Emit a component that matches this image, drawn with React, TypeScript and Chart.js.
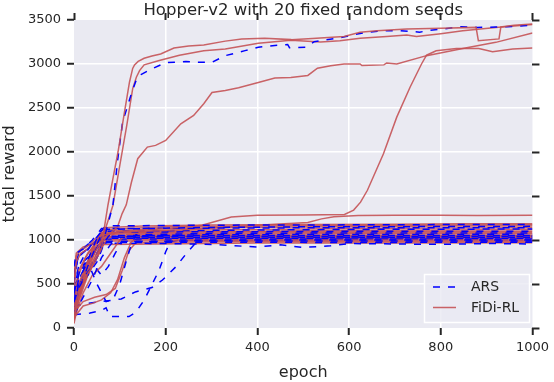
import React, { useEffect, useRef } from "react";
import { Chart, registerables } from "chart.js";

Chart.register(...registerables);

type P = [number, number][];

const TITLE = "Hopper-v2 with 20 fixed random seeds";
const X_LABEL = "epoch";
const Y_LABEL = "total reward";
const X_TICKS = [0, 200, 400, 600, 800, 1000];
const Y_TICKS = [0, 500, 1000, 1500, 2000, 2500, 3000, 3500];
const LEGEND_LABELS = ["ARS", "FiDi-RL"];

// ---- FiDi-RL (red) ----
const fidi1: P = [[0,120],[10,350],[20,500],[30,620],[40,700],[50,800],[60,900],[65,1100],[74,1395],[85,1700],[96,2000],[110,2450],[121,2793],[128,2950],[132,2990],[140,3030],[153,3065],[170,3090],[189,3114],[218,3182],[250,3205],[283,3216],[330,3260],[366,3284],[416,3292],[474,3277],[520,3290],[589,3313],[624,3360],[661,3378],[726,3398],[800,3405],[877,3416],[882,3265],[927,3285],[931,3420],[960,3440],[1000,3455]];
const fidi2: P = [[0,200],[10,400],[25,600],[40,750],[55,900],[70,1150],[85,1395],[100,1850],[115,2300],[128,2720],[136,2850],[143,2925],[153,2990],[186,3040],[230,3100],[283,3150],[330,3170],[402,3235],[473,3270],[538,3250],[580,3265],[624,3292],[682,3313],[726,3330],[747,3313],[800,3345],[848,3378],[920,3416],[1000,3450]];
const fidi3: P = [[0,150],[15,400],[30,650],[45,850],[60,1000],[80,1080],[95,1150],[105,1300],[114,1400],[125,1650],[139,1924],[160,2056],[178,2075],[200,2131],[233,2320],[261,2415],[283,2548],[301,2676],[330,2700],[359,2730],[402,2790],[438,2842],[473,2847],[510,2870],[531,2952],[560,2980],[589,3000],[624,3000],[628,2982],[676,2990],[682,3012],[704,3000],[769,3095],[848,3175],[920,3246],[1000,3352]];
const fidi4: P = [[0,250],[15,500],[30,750],[45,950],[60,1060],[100,1100],[150,1110],[200,1130],[250,1150],[279,1168],[343,1262],[400,1280],[500,1285],[590,1290],[610,1340],[625,1430],[640,1565],[675,1980],[704,2396],[733,2736],[758,3000],[769,3100],[790,3150],[834,3175],[883,3175],[913,3140],[957,3170],[1000,3182]];
const fidi5: P = [[0,180],[15,450],[30,700],[45,900],[60,1050],[100,1090],[150,1100],[250,1120],[350,1150],[402,1168],[460,1185],[510,1200],[540,1240],[567,1265],[620,1278],[700,1280],[800,1282],[880,1278],[1000,1282]];
const fidi6: P = [[0,90],[8,300],[20,550],[35,800],[50,1000],[65,1140],[150,1160],[300,1170],[500,1175],[700,1180],[850,1185],[1000,1185]];
const fidi7: P = [[0,250],[10,500],[25,700],[40,900],[55,1050],[70,1120],[200,1150],[400,1160],[600,1165],[800,1170],[1000,1172]];
const fidi8: P = [[0,400],[5,750],[15,850],[30,900],[50,1000],[65,1100],[200,1130],[400,1145],[600,1150],[800,1158],[1000,1160]];
const fidi9: P = [[0,150],[10,400],[30,600],[50,800],[60,950],[75,1080],[200,1110],[400,1120],[600,1130],[800,1135],[1000,1140]];
const fidi10: P = [[0,300],[10,600],[25,800],[45,950],[60,1080],[200,1095],[400,1100],[600,1110],[800,1115],[1000,1120]];
const fidi11: P = [[0,200],[15,450],[35,650],[55,850],[70,1000],[90,1080],[250,1090],[500,1095],[750,1100],[1000,1100]];
const fidi12: P = [[0,500],[5,820],[15,880],[35,950],[55,1060],[150,1075],[400,1080],[700,1085],[1000,1085]];
const fidi13: P = [[0,100],[20,400],[40,600],[60,700],[80,850],[100,1000],[115,1060],[300,1065],[600,1070],[1000,1070]];
const fidi14: P = [[0,350],[10,650],[30,850],[50,980],[65,1040],[300,1050],[600,1055],[1000,1055]];
const fidi15: P = [[0,200],[15,500],[35,750],[55,950],[70,1030],[300,1035],[600,1040],[1000,1040]];
const fidi16: P = [[0,120],[20,250],[40,280],[60,320],[80,400],[95,550],[110,800],[125,980],[140,1020],[400,1025],[700,1025],[1000,1025]];
const fidi17: P = [[0,600],[5,850],[20,920],[45,960],[70,1005],[300,1008],[600,1010],[1000,1010]];
const fidi18: P = [[0,250],[15,550],[35,800],[55,950],[75,990],[400,995],[700,995],[1000,995]];
const fidi19: P = [[0,180],[20,300],[45,350],[70,380],[90,450],[105,650],[120,880],[135,970],[300,980],[600,980],[1000,980]];
const fidi20: P = [[0,50],[10,300],[30,600],[50,850],[65,950],[400,965],[700,965],[1000,968]];

// ---- ARS (blue dashed) ----
const ars1: P = [[0,300],[10,450],[25,600],[40,700],[55,850],[70,1100],[85,1400],[95,1900],[106,2340],[125,2660],[138,2850],[146,2880],[171,2948],[200,3015],[244,3027],[272,3020],[301,3020],[330,3095],[373,3152],[402,3190],[438,3210],[466,3222],[470,3185],[505,3190],[524,3254],[574,3292],[611,3333],[639,3360],[675,3378],[711,3378],[754,3362],[773,3380],[808,3400],[845,3424],[880,3416],[920,3420],[960,3428],[1000,3443]];
const ars2: P = [[0,300],[10,550],[25,700],[40,900],[55,1080],[70,1160],[200,1165],[400,1170],[600,1172],[800,1175],[1000,1175]];
const ars3: P = [[0,150],[10,400],[30,700],[50,950],[65,1120],[250,1140],[500,1150],[750,1152],[1000,1155]];
const ars4: P = [[0,700],[5,850],[20,900],[40,1000],[60,1130],[300,1135],[600,1140],[1000,1140]];
const ars5: P = [[0,400],[10,700],[25,850],[45,1000],[60,1100],[300,1110],[600,1120],[1000,1125]];
const ars6: P = [[0,250],[10,500],[30,600],[50,750],[65,950],[80,1090],[400,1095],[700,1100],[1000,1100]];
const ars7: P = [[0,400],[15,700],[30,750],[50,500],[70,300],[85,320],[100,500],[115,780],[125,950],[135,1060],[300,1075],[600,1080],[1000,1080]];
const ars8: P = [[0,200],[10,450],[25,650],[45,900],[60,1040],[300,1060],[600,1062],[1000,1065]];
const ars9: P = [[0,500],[8,800],[25,880],[50,1000],[65,1050],[300,1050],[700,1052],[1000,1050]];
const ars10: P = [[0,350],[10,600],[30,750],[50,900],[70,1035],[300,1040],[600,1040],[1000,1042]];
const ars11: P = [[0,150],[20,350],[40,550],[60,800],[80,950],[95,1030],[400,1030],[1000,1032]];
const ars12: P = [[0,600],[10,850],[30,950],[50,990],[70,1020],[300,1020],[700,1022],[1000,1020]];
const ars13: P = [[0,250],[15,600],[35,800],[55,960],[70,1010],[400,1010],[700,1010],[1000,1012]];
const ars14: P = [[0,300],[10,500],[30,650],[45,700],[60,600],[75,700],[90,850],[105,980],[400,1000],[700,1000],[1000,1000]];
const ars15: P = [[0,450],[10,700],[30,800],[50,900],[65,985],[400,990],[700,988],[1000,990]];
const ars16: P = [[0,200],[15,450],[35,700],[55,900],[70,970],[300,975],[600,972],[1000,975]];
const ars17: P = [[0,350],[10,600],[30,800],[50,920],[65,965],[200,960],[300,950],[350,935],[400,920],[450,945],[500,915],[560,935],[600,960],[700,955],[800,950],[900,960],[1000,955]];
const ars18: P = [[0,150],[35,170],[60,200],[70,230],[78,130],[120,130],[135,180],[153,317],[164,430],[185,650],[200,866],[210,980],[230,1000],[400,1000],[700,1005],[1000,1000]];
const ars19: P = [[0,250],[30,280],[60,300],[103,330],[134,410],[170,460],[193,545],[222,695],[245,845],[267,975],[280,1020],[500,1025],[800,1025],[1000,1025]];
const ars20: P = [[0,550],[8,780],[20,860],[40,940],[60,1000],[80,1040],[300,1045],[600,1045],[1000,1048]];

const FIDI = [fidi1,fidi2,fidi3,fidi4,fidi5,fidi6,fidi7,fidi8,fidi9,fidi10,fidi11,fidi12,fidi13,fidi14,fidi15,fidi16,fidi17,fidi18,fidi19,fidi20];
const ARS = [ars1,ars2,ars3,ars4,ars5,ars6,ars7,ars8,ars9,ars10,ars11,ars12,ars13,ars14,ars15,ars16,ars17,ars18,ars19,ars20];

const RED = "rgba(196,78,82,0.88)";
const BLUE = "#0000ff";
const DASH = [7, 8];
const TEXT = "#262626";
const BG = "#EAEAF2";
const FONT = '"DejaVu Sans", sans-serif';

const bgPlugin = {
  id: "bg",
  beforeDraw(chart: any) {
    const { ctx, chartArea: a } = chart;
    ctx.save();
    ctx.fillStyle = BG;
    ctx.fillRect(a.left, a.top, a.right - a.left, a.bottom - a.top);
    ctx.restore();
  },
};

const overlayPlugin = {
  id: "overlay",
  afterDraw(chart: any) {
    const { ctx, chartArea: a } = chart;
    ctx.save();
    ctx.fillStyle = TEXT;
    ctx.font = `16.5px ${FONT}`;
    ctx.textAlign = "center";
    ctx.textBaseline = "alphabetic";
    ctx.fillText(TITLE, (a.left + a.right) / 2, 15);
    const bx = 424.5, by = 274.5, bw = 105, bh = 48;
    ctx.fillStyle = "rgba(234,234,242,0.8)";
    ctx.fillRect(bx, by, bw, bh);
    ctx.strokeStyle = "#ffffff";
    ctx.lineWidth = 1.5;
    ctx.strokeRect(bx, by, bw, bh);
    const rows = [
      { y: 287, color: BLUE, dash: DASH, w: 1.6 },
      { y: 307.5, color: RED, dash: [] as number[], w: 1.5 },
    ];
    rows.forEach((r, i) => {
      ctx.beginPath();
      ctx.setLineDash(r.dash);
      ctx.strokeStyle = r.color;
      ctx.lineWidth = r.w;
      ctx.moveTo(433, r.y);
      ctx.lineTo(456, r.y);
      ctx.stroke();
      ctx.setLineDash([]);
      ctx.fillStyle = TEXT;
      ctx.font = `14px ${FONT}`;
      ctx.textAlign = "left";
      ctx.textBaseline = "middle";
      ctx.fillText(LEGEND_LABELS[i], 471, r.y + 0.5);
    });
    ctx.restore();
  },
};

function gridColor(edgeMin: number, edgeMax: number) {
  return (c: any) => {
    const v = c.tick ? c.tick.value : null;
    if (v === edgeMin || v === edgeMax) return "rgba(255,255,255,0)";
    return "#ffffff";
  };
}

const plainTick = (v: any) => String(v);

export default function App() {
  const ref = useRef<HTMLCanvasElement | null>(null);
  useEffect(() => {
    if (!ref.current) return;
    const datasets: any[] = [];
    for (let i = 0; i < 20; i++) {
      datasets.push({
        label: "FiDi-RL",
        data: FIDI[i].map(([x, y]) => ({ x, y })),
        borderColor: RED,
        borderWidth: 1.5,
        pointRadius: 0,
        fill: false,
        tension: 0,
      });
      datasets.push({
        label: "ARS",
        data: ARS[i].map(([x, y]) => ({ x, y })),
        borderColor: BLUE,
        borderWidth: 1.5,
        borderDash: DASH,
        pointRadius: 0,
        fill: false,
        tension: 0,
      });
    }
    const tickFont = { family: FONT, size: 13 };
    const chart = new Chart(ref.current, {
      type: "line",
      data: { datasets },
      options: {
        animation: false,
        responsive: false,
        maintainAspectRatio: false,
        devicePixelRatio: 1,
        layout: { padding: 0 },
        plugins: {
          legend: { display: false },
          tooltip: { enabled: false },
          title: { display: false },
        },
        scales: {
          x: {
            type: "linear",
            position: "bottom",
            min: X_TICKS[0],
            max: X_TICKS[X_TICKS.length - 1],
            afterBuildTicks: (s: any) => { s.ticks = X_TICKS.map((v) => ({ value: v })); },
            ticks: { font: tickFont, color: TEXT, padding: 5, maxRotation: 0, callback: plainTick },
            grid: { color: gridColor(0, 1000), lineWidth: 1.5, tickColor: TEXT, tickLength: 7, tickWidth: 2 },
            border: { display: false },
            title: { display: true, text: X_LABEL, color: TEXT, font: { family: FONT, size: 16 }, padding: 0 },
            afterFit: (s: any) => { s.height = 54; },
          },
          x2: {
            type: "linear",
            position: "top",
            min: 0,
            max: 1000,
            afterBuildTicks: (s: any) => { s.ticks = X_TICKS.map((v) => ({ value: v })); },
            ticks: { display: false },
            grid: { drawOnChartArea: false, tickColor: TEXT, tickLength: 7, tickWidth: 2 },
            border: { display: false },
            afterFit: (s: any) => { s.height = 20; },
          },
          y: {
            type: "linear",
            position: "left",
            min: Y_TICKS[0],
            max: Y_TICKS[Y_TICKS.length - 1],
            afterBuildTicks: (s: any) => { s.ticks = Y_TICKS.map((v) => ({ value: v })); },
            ticks: { font: tickFont, color: TEXT, padding: 6, callback: plainTick },
            grid: { color: gridColor(0, 3500), lineWidth: 1.5, tickColor: TEXT, tickLength: 7, tickWidth: 2 },
            border: { display: false },
            title: { display: true, text: Y_LABEL, color: TEXT, font: { family: FONT, size: 16 }, padding: 0 },
            afterFit: (s: any) => { s.width = 74; },
          },
          y2: {
            type: "linear",
            position: "right",
            min: 0,
            max: 3500,
            afterBuildTicks: (s: any) => { s.ticks = Y_TICKS.map((v) => ({ value: v })); },
            ticks: { display: false },
            grid: { drawOnChartArea: false, tickColor: TEXT, tickLength: 7, tickWidth: 2 },
            border: { display: false },
            afterFit: (s: any) => { s.width = 17; },
          },
        },
      } as any,
      plugins: [bgPlugin, overlayPlugin],
    });
    return () => chart.destroy();
  }, []);
  return (
    <div style={{ position: "fixed", left: 0, top: 0, width: 554, height: 382, background: "#fff" }}>
      <canvas ref={ref} width={554} height={382} style={{ display: "block" }} />
    </div>
  );
}
